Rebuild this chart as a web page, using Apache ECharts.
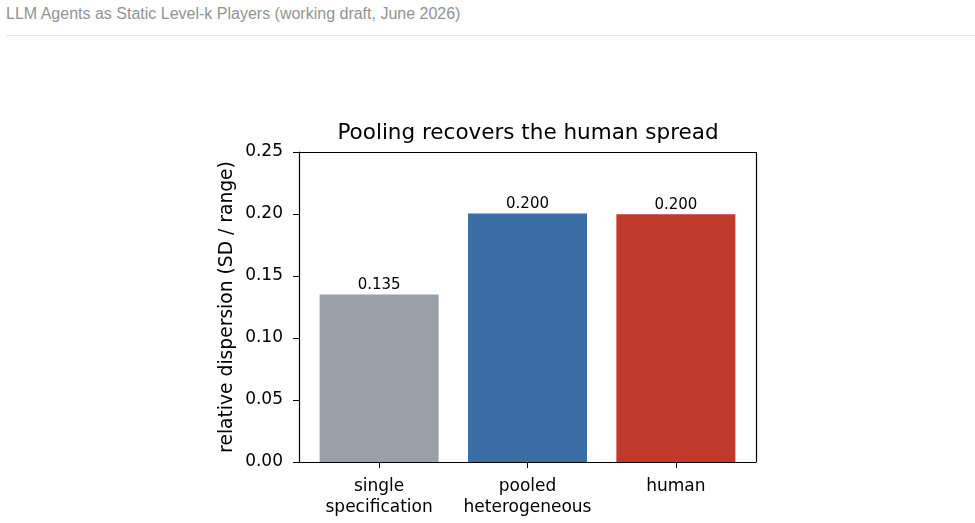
<!DOCTYPE html>
<html>
<head>
<meta charset="utf-8">
<script src="https://cdn.jsdelivr.net/npm/echarts@6/dist/echarts.min.js"></script>
<style>
  body { margin: 0; background: #fff; }
  #head { position: absolute; left: 6px; top: 5px; font-family: "Liberation Sans", Arial, sans-serif; font-size: 16px; color: #939393; }
  #rule { position: absolute; left: 6px; right: 0; top: 35px; border-top: 1px solid #e6e6e6; }
  #main { position: absolute; left: 0; top: 0; width: 975px; height: 523px; }
</style>
</head>
<body>
<div id="head">LLM Agents as Static Level-k Players (working draft, June 2026)</div>
<div id="rule"></div>
<div id="main"></div>
<script>
// data
const categories = ['single\nspecification', 'pooled\nheterogeneous', 'human'];
const dispersion = [0.135, 0.2004, 0.1997];
const barColors = ['#9aa0a8', '#3a6ea5', '#c0392b'];

const font = 'DejaVu Sans';
var chart = echarts.init(document.getElementById('main'));

chart.setOption({
  animation: false,
  title: {
    text: 'Pooling recovers the human spread',
    left: 523, top: 117, textAlign: 'center',
    textStyle: { fontFamily: font, fontSize: 21.5, fontWeight: 'normal', color: '#000' }
  },
  grid: { left: 299, right: 219, top: 152, bottom: 61 },
  xAxis: {
    type: 'value', min: -0.54, max: 2.54,
    axisLine: { show: true, onZero: false, lineStyle: { color: '#000', width: 1.2 } },
    splitLine: { show: false },
    axisTick: { show: true, length: 6, customValues: [0, 1, 2], lineStyle: { color: '#000' } },
    axisLabel: {
      customValues: [0, 1, 2], margin: 14,
      fontFamily: font, fontSize: 17, color: '#000', lineHeight: 21,
      formatter: v => categories[Math.round(v)]
    }
  },
  yAxis: {
    type: 'value', min: 0, max: 0.25, interval: 0.05,
    name: 'relative dispersion (SD / range)', nameLocation: 'middle', nameGap: 62,
    nameTextStyle: { fontFamily: font, fontSize: 18.7, color: '#000' },
    axisLine: { show: true, onZero: false, lineStyle: { color: '#000', width: 1.2 } },
    splitLine: { show: false },
    axisTick: { show: true, length: 6, lineStyle: { color: '#000' } },
    axisLabel: { fontFamily: font, fontSize: 17, color: '#000', margin: 16,
      formatter: v => v.toFixed(2) }
  },
  series: [
    {
      type: 'bar', barWidth: 119,
      data: dispersion.map((v, i) => ({ value: [i, v], itemStyle: { color: barColors[i] } })),
      label: {
        show: true, position: 'top', distance: 2,
        fontFamily: font, fontSize: 15, color: '#000',
        formatter: p => p.value[1].toFixed(3)
      }
    },
    {
      // top and right spines
      type: 'line', data: [], silent: true,
      markLine: {
        symbol: 'none', silent: true, label: { show: false },
        lineStyle: { color: '#000', width: 1.2, type: 'solid' },
        data: [
          [{ coord: [-0.54, 0.25] }, { coord: [2.54, 0.25] }],
          [{ coord: [2.54, 0] }, { coord: [2.54, 0.25] }]
        ]
      }
    }
  ]
});
</script>
</body>
</html>
